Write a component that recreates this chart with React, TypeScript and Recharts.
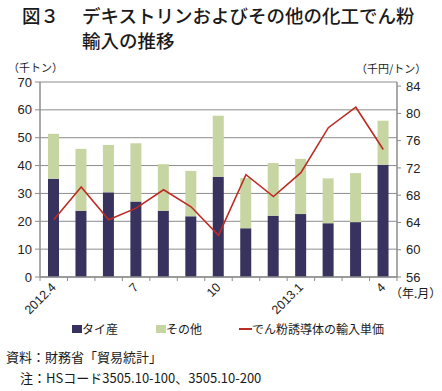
import { ComposedChart, Bar, Line, XAxis, YAxis, CartesianGrid } from 'recharts'

const months = [
  '2012.4', '2012.5', '2012.6', '2012.7', '2012.8', '2012.9', '2012.10',
  '2012.11', '2012.12', '2013.1', '2013.2', '2013.3', '2013.4',
]
const tickLabels = ['2012.4', '', '', '7', '', '', '10', '', '', '2013.1', '', '', '4']

// 千トン
const thai = [35.3, 23.8, 30.4, 27.1, 23.8, 21.8, 36.0, 17.5, 22.0, 22.6, 19.3, 19.7, 40.3]
const other = [16.1, 22.2, 17.0, 20.9, 16.7, 16.3, 21.9, 18.0, 18.9, 19.8, 16.1, 17.6, 15.8]
// 千円/トン
const unitPrice = [64.4, 69.2, 64.4, 66.1, 68.8, 66.3, 62.1, 71.0, 67.8, 71.3, 77.9, 80.9, 74.7]

const leftTicks = [0, 10, 20, 30, 40, 50, 60, 70]
const rightTicks = [56, 60, 64, 68, 72, 76, 80, 84]

const data = months.map(function (m, i) {
  return { month: m, thai: thai[i], other: other[i], price: unitPrice[i] }
})

const CHART_W = 442
const MARGIN = { top: 82, right: 5, bottom: 23, left: 0 }
const Y_W = 40
const PLOT_W = CHART_W - MARGIN.left - MARGIN.right - Y_W * 2
const HALF_STEP = PLOT_W / months.length / 2

const NAVY = '#38325f'
const GREEN = '#c6d5a2'
const RED = '#bd2c22'
const GRAY = '#8c8c8c'
const JP = '"Noto Sans CJK JP", "Noto Sans", sans-serif'
const NUM = '"Liberation Sans", Arial, sans-serif'

function MonthTick(props: any) {
  const { x, y, index } = props
  const label = tickLabels[index]
  const last = index === months.length - 1
  return (
    <g>
      <line x1={x - HALF_STEP} y1={y} x2={x - HALF_STEP} y2={y + 4} stroke={GRAY} strokeWidth={1} />
      {last && (
        <line x1={x + HALF_STEP} y1={y} x2={x + HALF_STEP} y2={y + 4} stroke={GRAY} strokeWidth={1} />
      )}
      {label && (
        <text
          x={x + 3}
          y={y + 11}
          textAnchor="end"
          transform={`rotate(-45 ${x + 3} ${y + 11})`}
          style={{ fontFamily: NUM, fontSize: 12.5, fill: '#222' }}
        >
          {label}
        </text>
      )}
    </g>
  )
}

export default function App() {
  return (
    <div style={{
      position: 'absolute',
      left: 0,
      top: 0,
      width: 442,
      height: 391,
      background: '#fff',
      fontFamily: JP,
      color: '#1a1a1a',
    }}>
      <div style={{ position: 'absolute', left: 22, top: 3, fontSize: 18.5, lineHeight: '25px', fontWeight: 500, whiteSpace: 'nowrap' }}>
        図３
      </div>
      <div style={{ position: 'absolute', left: 82, top: 3, fontSize: 18.5, lineHeight: '25px', fontWeight: 500, whiteSpace: 'nowrap' }}>
        デキストリンおよびその他の化工でん粉<br />輸入の推移
      </div>

      <div style={{ position: 'absolute', left: 8, top: 59, fontSize: 11, whiteSpace: 'nowrap' }}>
        （千トン）
      </div>
      <div style={{ position: 'absolute', left: 356, top: 60, fontSize: 11, whiteSpace: 'nowrap' }}>
        （千円/トン）
      </div>

      <div style={{ position: 'absolute', left: 0, top: 0 }}>
        <ComposedChart width={CHART_W} height={330} data={data} margin={MARGIN}>
          <CartesianGrid yAxisId="left" vertical={false} stroke={GRAY} strokeWidth={1} />
          <XAxis
            dataKey="month"
            interval={0}
            height={30}
            tick={<MonthTick />}
            tickLine={false}
            tickSize={0}
            tickMargin={0}
            axisLine={{ stroke: GRAY, strokeWidth: 1.5 }}
          />
          <YAxis
            yAxisId="left"
            domain={[0, 70]}
            ticks={leftTicks}
            width={Y_W}
            tickSize={5}
            tickMargin={3}
            tickLine={{ stroke: GRAY }}
            axisLine={{ stroke: GRAY, strokeWidth: 1.5 }}
            tick={{ fontFamily: NUM, fontSize: 13, fill: '#222' }}
          />
          <YAxis
            yAxisId="right"
            orientation="right"
            domain={[56, 84.6]}
            ticks={rightTicks}
            width={Y_W}
            tickSize={4}
            tickMargin={5}
            tickLine={{ stroke: GRAY }}
            axisLine={{ stroke: GRAY, strokeWidth: 1.5 }}
            tick={{ fontFamily: NUM, fontSize: 13, fill: '#222' }}
          />
          <Bar yAxisId="left" dataKey="thai" stackId="a" fill={NAVY} barSize={11} isAnimationActive={false} />
          <Bar yAxisId="left" dataKey="other" stackId="a" fill={GREEN} barSize={11} isAnimationActive={false} />
          <Line
            yAxisId="right"
            type="linear"
            dataKey="price"
            stroke={RED}
            strokeWidth={1.6}
            dot={false}
            isAnimationActive={false}
          />
        </ComposedChart>
      </div>

      <div style={{ position: 'absolute', left: 390, top: 284, fontSize: 12, whiteSpace: 'nowrap' }}>
        （年.月）
      </div>

      <div style={{
        position: 'absolute',
        left: 72,
        top: 320,
        fontSize: 12,
        display: 'flex',
        alignItems: 'center',
        whiteSpace: 'nowrap',
      }}>
        <span style={{ display: 'inline-block', width: 10, height: 8, background: NAVY }} />
        <span style={{ marginRight: 38 }}>タイ産</span>
        <span style={{ display: 'inline-block', width: 10, height: 8, background: GREEN }} />
        <span style={{ marginRight: 37 }}>その他</span>
        <span style={{ display: 'inline-block', width: 13, height: 2, background: RED }} />
        <span>でん粉誘導体の輸入単価</span>
      </div>

      <div style={{ position: 'absolute', left: 6, top: 347, fontSize: 13, whiteSpace: 'nowrap' }}>
        資料：財務省「貿易統計」
      </div>
      <div style={{ position: 'absolute', left: 20, top: 368, fontSize: 13, whiteSpace: 'nowrap' }}>
        注：HSコード3505.10-100、3505.10-200
      </div>
    </div>
  )
}
